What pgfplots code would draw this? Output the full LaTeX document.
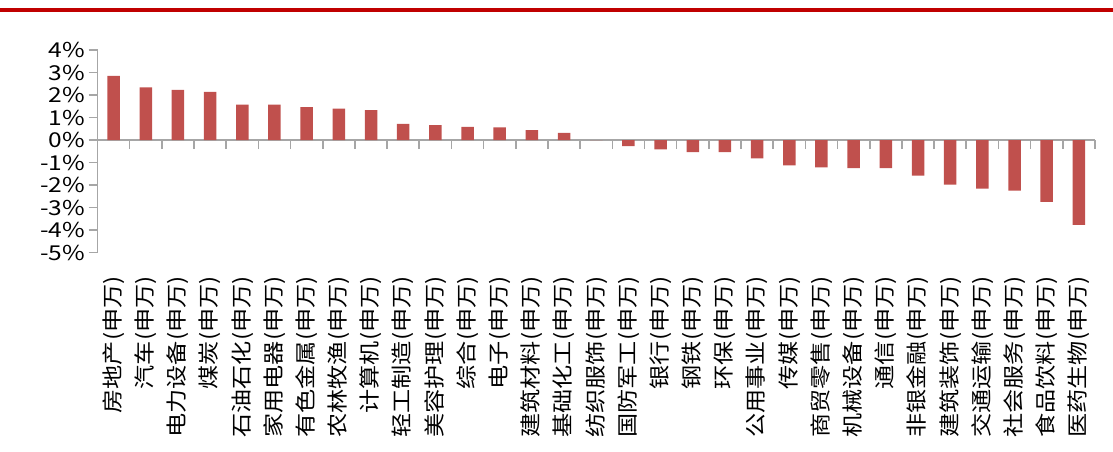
\documentclass[border=0pt]{standalone}
\usepackage{fontspec}
\setmainfont{Noto Sans CJK SC}
\newfontfamily\tickfont[FakeStretch=1.2]{Noto Sans CJK SC}
\newfontfamily\catfont[FakeStretch=1.15]{Noto Sans CJK SC}
\usepackage{pgfplots}
\pgfplotsset{compat=1.18}
\definecolor{barred}{HTML}{C0504D}
\definecolor{topred}{HTML}{C00000}
\definecolor{axgray}{HTML}{A6A6A6}

\begin{document}
\begin{tikzpicture}[x=1pt,y=1pt]
\useasboundingbox (0,0) rectangle (1113,452);
% red rule across the top
\fill[topred] (0,440) rectangle (1113,444);
\begin{axis}[
    at={(97.5pt,199.3pt)}, anchor=south west,
    width=997.5pt, height=202.7pt, scale only axis,
    ybar,
    xmin=-0.5, xmax=30.5, ymin=-5, ymax=4,
    axis x line=middle, axis y line=left,
    axis line style={-, axgray, line width=1.6pt},
    tick align=outside,
    major tick length=9pt, minor tick length=9pt,
    ytick={-5,-4,...,4},
    yticklabel={\pgfmathprintnumber{\tick}\%},
    yticklabel style={font=\tickfont\fontsize{20.5}{20.5}\selectfont, /pgf/number format/assume math mode=true},
    ytick style={axgray, line width=1.6pt},
    xtick={0,1,...,30},
    major x tick style={draw=none},
    minor xtick={0.5,1.5,...,30.5},
    minor x tick style={axgray, line width=1.6pt},
    xticklabels={房地产(申万), 汽车(申万), 电力设备(申万), 煤炭(申万), 石油石化(申万),
        家用电器(申万), 有色金属(申万), 农林牧渔(申万), 计算机(申万), 轻工制造(申万),
        美容护理(申万), 综合(申万), 电子(申万), 建筑材料(申万), 基础化工(申万),
        纺织服饰(申万), 国防军工(申万), 银行(申万), 钢铁(申万), 环保(申万),
        公用事业(申万), 传媒(申万), 商贸零售(申万), 机械设备(申万), 通信(申万),
        非银金融(申万), 建筑装饰(申万), 交通运输(申万), 社会服务(申万), 食品饮料(申万),
        医药生物(申万)},
    xticklabel style={rotate=90, anchor=east, inner sep=0pt, font=\catfont\fontsize{21}{21}\selectfont},
    xticklabel shift=127pt,
]
\addplot[fill=barred, draw=none, bar width=12.5pt] coordinates {
    (0,2.85) (1,2.34) (2,2.23) (3,2.14) (4,1.58)
    (5,1.57) (6,1.46) (7,1.40) (8,1.33) (9,0.72)
    (10,0.66) (11,0.59) (12,0.56) (13,0.44) (14,0.32)
    (15,0.00) (16,-0.27) (17,-0.41) (18,-0.53) (19,-0.53)
    (20,-0.81) (21,-1.12) (22,-1.21) (23,-1.24) (24,-1.24)
    (25,-1.58) (26,-1.98) (27,-2.15) (28,-2.24) (29,-2.74)
    (30,-3.76)
};
\end{axis}
\end{tikzpicture}
\end{document}
